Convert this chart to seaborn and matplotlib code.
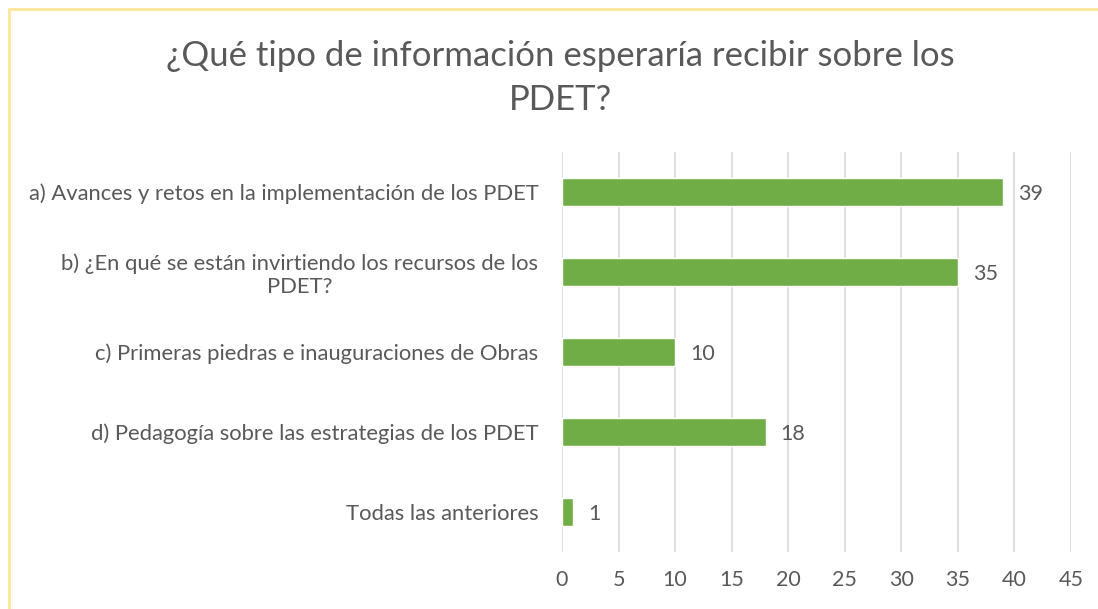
import matplotlib
matplotlib.use("Agg")
import matplotlib.pyplot as plt
import seaborn as sns
import pandas as pd
from matplotlib.lines import Line2D

categories = [
    "a) Avances y retos en la implementación de los PDET",
    "b) ¿En qué se están invirtiendo los recursos de los\nPDET?",
    "c) Primeras piedras e inauguraciones de Obras",
    "d) Pedagogía sobre las estrategias de los PDET",
    "Todas las anteriores",
]
values = [39, 35, 10, 18, 1]
xticks = [0, 5, 10, 15, 20, 25, 30, 35, 40, 45]

title = "¿Qué tipo de información esperaría recibir sobre los\nPDET?"

sns.set_style("white")
plt.rcParams['font.family'] = ['Lato', 'DejaVu Sans']

TEXT = "#595959"
GREEN = "#70AD47"
GRID = "#D9D9D9"

df = pd.DataFrame({"cat": categories, "val": values})

fig = plt.figure(figsize=(10.98, 6.09), dpi=100)
ax = fig.add_axes([562/1098, 1-552/609, (1071-562)/1098, 400/609])

sns.barplot(data=df, x="val", y="cat", orient="h", color=GREEN, width=0.35,
            saturation=1, ax=ax, zorder=3)

ax.set_xlim(0, 45)
ax.set_xticks(xticks)
ax.set_xticklabels([str(t) for t in xticks], fontsize=15.5, color=TEXT)
ax.set_ylabel("")
ax.set_xlabel("")
for s in ax.spines.values():
    s.set_visible(False)
ax.grid(axis="x", color=GRID, linewidth=1.2, zorder=0)
ax.grid(axis="y", visible=False)
ax.tick_params(axis="x", length=0, pad=13)
ax.tick_params(axis="y", length=0, pad=17)
for lbl in ax.get_yticklabels():
    lbl.set_fontsize(15.8)
    lbl.set_color(TEXT)
    lbl.set_horizontalalignment("right")
    lbl.set_multialignment("center")
    lbl.set_linespacing(1.15)

for i, v in enumerate(values):
    ax.annotate(str(v), xy=(v, i), xytext=(15, -2), textcoords="offset pixels",
                va="center", ha="left", fontsize=15.5, color=TEXT)

fig.text(560/1098, 1-78/609, title, ha="center", va="center", fontsize=25,
         color=TEXT, linespacing=1.5)

# chart border (partial, as in the screenshot)
fig.add_artist(Line2D([9/1098, 9/1098], [0, 1-9/609], transform=fig.transFigure,
                      color="#FFE699", linewidth=2))
fig.add_artist(Line2D([9/1098, 1], [1-9/609, 1-9/609], transform=fig.transFigure,
                      color="#FFE699", linewidth=2))

fig.savefig("out.png", dpi=100, facecolor="white")
